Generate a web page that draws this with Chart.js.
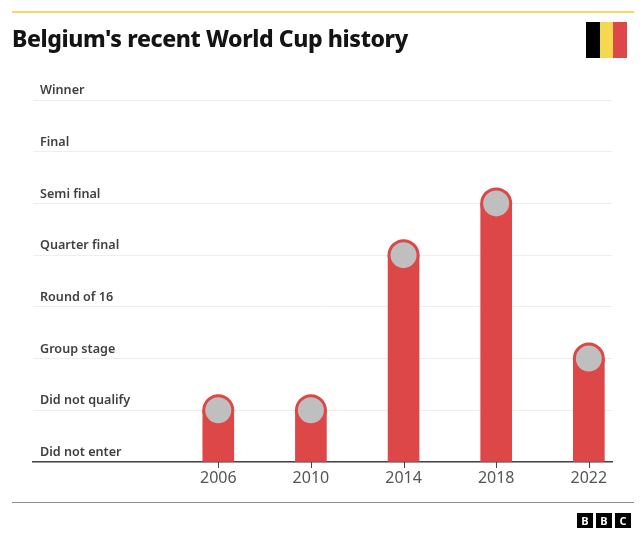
<!DOCTYPE html>
<html>
<head>
<meta charset="utf-8">
<title>Belgium's recent World Cup history</title>
<script src="https://cdn.jsdelivr.net/npm/chart.js@4"></script>
<style>
  html, body { margin: 0; padding: 0; background: #fff; }
  #wrap { position: relative; width: 640px; height: 539px; overflow: hidden; font-family: "Noto Sans", sans-serif; }
  #grafico { position: absolute; left: 0; top: 0; }
  #regla_top { position: absolute; left: 12px; top: 11px; width: 622px; height: 2px; background: #f5d960; }
  h1 { position: absolute; left: 12px; top: 21px; margin: 0; font-size: 23px; line-height: 34px; font-weight: 800; color: #141414; letter-spacing: -0.4px; white-space: nowrap; }
  #bandera { position: absolute; left: 586px; top: 22px; width: 41px; height: 36px; display: flex; }
  #bandera div { flex: 1; }
  #regla_pie { position: absolute; left: 12px; top: 502px; width: 622px; height: 1px; background: #8c8c8c; }
  #bbc { position: absolute; left: 577px; top: 513px; display: flex; gap: 3px; }
  #bbc span { width: 16px; height: 15px; background: #000; color: #fff; font: 700 11px/15px "Noto Sans", sans-serif; text-align: center; }
</style>
</head>
<body>
<div id="wrap">
  <canvas id="grafico" width="640" height="539"></canvas>
  <div id="regla_top"></div>
  <h1>Belgium's recent World Cup history</h1>
  <div id="bandera">
    <div style="background:#000"></div>
    <div style="background:#f6d84f"></div>
    <div style="background:#dd4748"></div>
  </div>
  <div id="regla_pie"></div>
  <div id="bbc"><span>B</span><span>B</span><span>C</span></div>
</div>
<script>
var etapas = ['Did not enter', 'Did not qualify', 'Group stage', 'Round of 16', 'Quarter final', 'Semi final', 'Final', 'Winner'];
var anios = [2006, 2010, 2014, 2018, 2022];
var resultados = [1, 1, 4, 5, 2];

var rojo = '#dd4748';

var puntos = function () {
	return anios.map(function (anio, i) {
		return { x: anio, y: resultados[i] };
	});
};

// marcas cortas debajo del eje, una por cada anio
var marcas_x = {
	id: 'marcas_x',
	afterDraw: function (chart) {
		var ctx = chart.ctx;
		var eje = chart.scales.x;
		ctx.save();
		ctx.strokeStyle = '#444444';
		ctx.lineWidth = 1;
		anios.forEach(function (anio) {
			var px = Math.round(eje.getPixelForValue(anio)) + 0.5;
			ctx.beginPath();
			ctx.moveTo(px, eje.top);
			ctx.lineTo(px, eje.top + 6);
			ctx.stroke();
		});
		ctx.restore();
	}
};

var configuracion = {
	type: 'bar',
	data: {
		datasets: [
			{
				// circulo encima de cada barra
				type: 'line',
				data: puntos(),
				showLine: false,
				pointRadius: 14.5,
				pointBorderWidth: 3,
				pointBackgroundColor: '#bfbfbf',
				pointBorderColor: rojo,
				clip: false,
				order: 1
			},
			{
				data: puntos(),
				backgroundColor: rojo,
				barThickness: 31,
				order: 2
			}
		]
	},
	plugins: [marcas_x],
	options: {
		responsive: false,
		animation: false,
		layout: { padding: { left: 33, right: 28, top: 100, bottom: 0 } },
		plugins: {
			legend: { display: false },
			title: { display: false },
			tooltip: { enabled: false }
		},
		scales: {
			x: {
				type: 'linear',
				min: 1998,
				max: 2023,
				offset: false,
				afterBuildTicks: function (scale) {
					scale.ticks = anios.map(function (anio) { return { value: anio }; });
				},
				afterFit: function (scale) { scale.height = 77; },
				grid: { display: false, drawTicks: false },
				border: { color: '#444444', width: 1.5 },
				ticks: {
					autoSkip: false,
					maxRotation: 0,
					padding: 7,
					color: '#555555',
					font: { family: '"Noto Sans"', size: 16 },
					callback: function (v) { return String(v); }
				}
			},
			y: {
				min: 0,
				max: 7,
				afterBuildTicks: function (scale) {
					scale.ticks = etapas.map(function (e, i) { return { value: i }; });
				},
				afterFit: function (scale) { scale.width = 0; },
				grid: { drawTicks: false, color: '#eeeeee', lineWidth: 1 },
				border: { display: false },
				ticks: {
					mirror: true,
					padding: 7,
					color: '#404040',
					font: { family: '"Noto Sans"', size: 12.6, weight: '600', lineHeight: '19px' },
					// la linea vacia sube la etiqueta por encima de la linea de la grilla
					callback: function (v) { return [etapas[v], '']; }
				}
			}
		}
	}
};

window.mi_grafico = new Chart(document.getElementById('grafico').getContext('2d'), configuracion);
</script>
</body>
</html>
